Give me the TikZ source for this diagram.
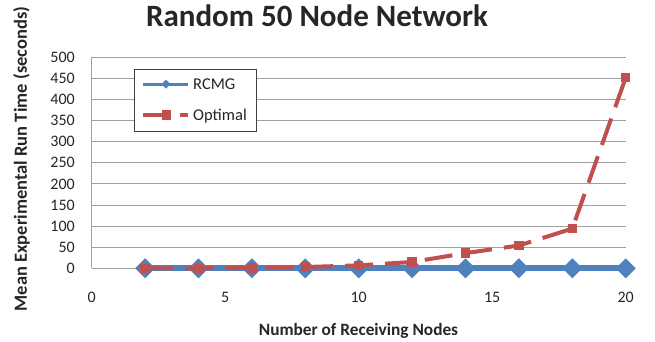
\documentclass[tikz,border=0pt]{standalone}
\usepackage{fontspec}
\setmainfont{Carlito}
\definecolor{rblue}{HTML}{4F81BD}
\definecolor{rred}{HTML}{C0504D}
\definecolor{gridc}{HTML}{A0A0A0}
\definecolor{legc}{HTML}{404040}
\definecolor{txt}{HTML}{262626}
\tikzset{
  ticklabel/.style={inner sep=0pt, text=txt, font=\fontsize{16}{16}\selectfont},
  axtitle/.style={inner sep=0pt, text=txt, font=\fontsize{17.3}{17.3}\selectfont\bfseries},
  legtext/.style={inner sep=0pt, text=txt, font=\fontsize{16.5}{16.5}\selectfont, anchor=base west},
  gridline/.style={draw=gridc, line width=1pt},
}
\begin{document}
\begin{tikzpicture}[x=1pt,y=-1pt]
\useasboundingbox[fill=white] (0,0) rectangle (655,341);
% title
\node[inner sep=0pt, text=txt, font=\fontsize{31}{31}\selectfont\bfseries, anchor=base] (title) at (317,26) {Random 50 Node Network};
% grid and y ticks
\foreach \v in {0,50,...,500} {
  \draw[gridline] (91.7,{268.3-\v*0.422}) -- (626,{268.3-\v*0.422});
  \node[ticklabel, anchor=east] at (75,{268.3-\v*0.422}) {\v};
}
\draw[gridline] (91.7,57.3) -- (91.7,268.3);
% x ticks
\foreach \v in {0,5,...,20} {
  \node[ticklabel] at ({91.7+\v*26.7},297) {\v};
}
% axis titles
\node[axtitle, anchor=base] (xtitle) at (358.5,335) {Number of Receiving Nodes};
\node[axtitle, font=\fontsize{18.5}{18.5}\selectfont\bfseries, anchor=base, rotate=90] (ytitle) at (27,159) {Mean Experimental Run Time (seconds)};
% data
\begin{scope}[shift={(91.7,268.3)}, x=26.7pt, y=0.422pt]
  \draw[rblue, line width=6pt] (2,0) -- (20,0);
  \foreach \xx in {2,4,...,20}
    \fill[rblue] (\xx,0) +(-10pt,0pt) -- +(0pt,10pt) -- +(10pt,0pt) -- +(0pt,-10pt) -- cycle;
  \draw[rred, line width=4pt, dash pattern=on 28pt off 12pt] plot coordinates {(2,0) (4,0) (6,1) (8,3) (10,7) (12,15) (14,36) (16,54) (18,94) (20,452)};
  \foreach \xx/\yy in {2/0,4/0,6/1,8/3,10/7,12/15,14/36,16/54,18/94,20/452}
    \fill[rred] (\xx,\yy) +(-4.7pt,-4.7pt) rectangle +(4.7pt,4.7pt);
\end{scope}
% legend
\draw[draw=legc, fill=white, line width=1pt] (134,69) rectangle (256,131);
\draw[rblue, line width=3pt] (143,84) -- (188,84);
\fill[rblue] (166,84) +(-4.5pt,0pt) -- +(0pt,4.5pt) -- +(4.5pt,0pt) -- +(0pt,-4.5pt) -- cycle;
\node[legtext] (l1) at (193,89.3) {RCMG};
\draw[rred, line width=3.5pt] (143,115) -- (164,115);
\draw[rred, line width=3.5pt] (180,115) -- (188,115);
\fill[rred] (166.5,115) +(-4.7pt,-4.7pt) rectangle +(4.7pt,4.7pt);
\node[legtext] (l2) at (193,120) {Optimal};
\end{tikzpicture}
\end{document}
